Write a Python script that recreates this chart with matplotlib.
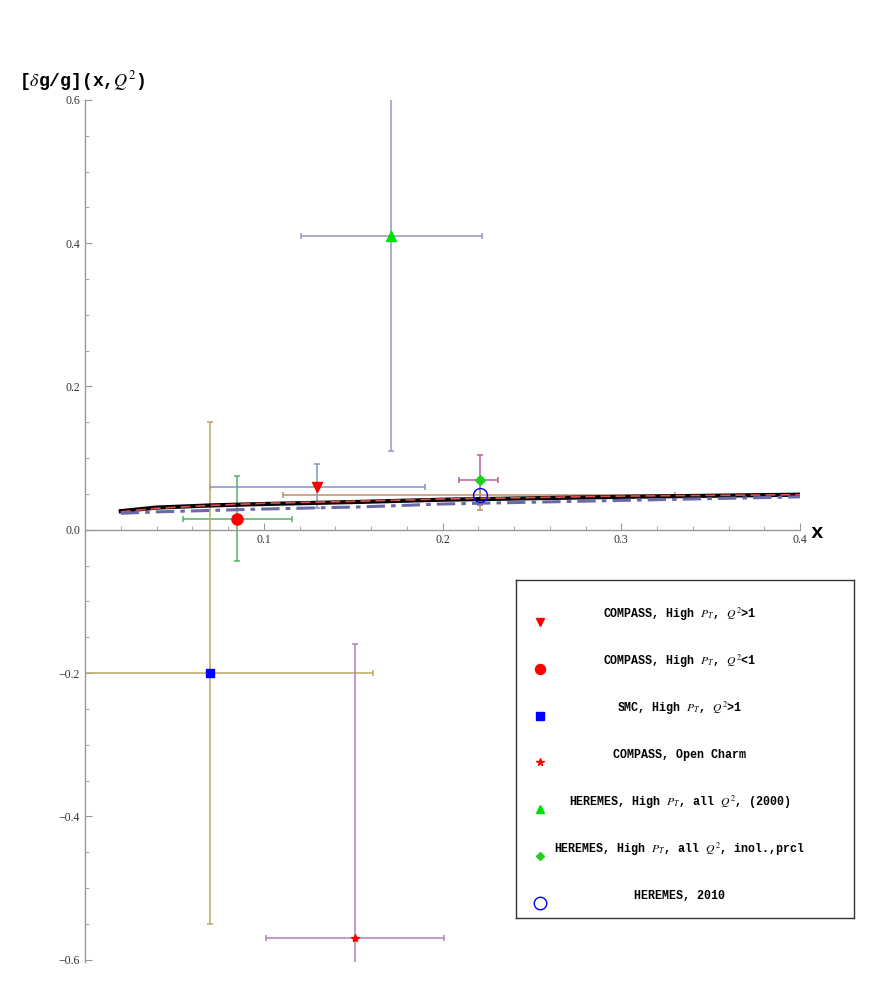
import matplotlib.pyplot as plt

plt.rcParams["mathtext.fontset"] = "stix"

# model curves
X_CURVE = [0.02, 0.04, 0.07, 0.10, 0.155, 0.20, 0.30, 0.40]
BLACK_CURVE = [0.026, 0.031, 0.034, 0.036, 0.039, 0.042, 0.046, 0.049]
RED_CURVE = [0.025, 0.030, 0.034, 0.037, 0.040, 0.043, 0.047, 0.049]
BLUE_CURVE = [0.023, 0.025, 0.027, 0.029, 0.032, 0.036, 0.041, 0.046]

# data points: x, y, x-errors (lo, hi), y-errors (lo, hi)
LABELS = [
    r"COMPASS, High $P_T$, $Q^2$>1",
    r"COMPASS, High $P_T$, $Q^2$<1",
    r"SMC, High $P_T$, $Q^2$>1",
    "COMPASS, Open Charm",
    r"HEREMES, High $P_T$, all $Q^2$, (2000)",
    r"HEREMES, High $P_T$, all $Q^2$, inol.,prcl",
    "HEREMES, 2010",
]
PX = [0.13, 0.085, 0.07, 0.151, 0.171, 0.221, 0.221]
PY = [0.060, 0.015, -0.200, -0.570, 0.410, 0.070, 0.049]
XERR_LO = [0.060, 0.030, 0.090, 0.050, 0.050, 0.012, 0.110]
XERR_HI = [0.060, 0.031, 0.091, 0.050, 0.051, 0.010, 0.109]
YERR_LO = [0.029, 0.058, 0.350, 0.410, 0.300, 0.035, 0.021]
YERR_HI = [0.032, 0.060, 0.350, 0.410, 0.300, 0.035, 0.021]

MARKERS = ["v", "o", "s", "*", "^", "D", "o"]
MSIZES = [7, 8, 6, 6, 7, 5, 10]
MCOLORS = ["red", "red", "blue", "red", "#00e000", "#20d020", "none"]
MEDGES = ["red", "red", "blue", "red", "#00e000", "#20d020", "blue"]
ECOLORS = ["#8292c8", "#55b066", "#b8a862", "#b67cc0", "#9595cc", "#b8609e", "#bb9070"]

fig = plt.figure(figsize=(8.72, 9.84), dpi=100)
ax = fig.add_axes([0.0975, 0.0225, 0.82, 0.876])

ax.plot(X_CURVE, BLACK_CURVE, color="black", lw=3.0, zorder=3)
ax.plot(X_CURVE, RED_CURVE, color="#e05050", lw=1.2, ls=(0, (6, 3)), zorder=4)
ax.plot(X_CURVE, BLUE_CURVE, color="#6a6aa8", lw=2.2, ls=(0, (6, 2, 1.5, 2)), zorder=4)

for i in range(len(PX)):
    ax.errorbar(PX[i], PY[i],
                xerr=[[XERR_LO[i]], [XERR_HI[i]]],
                yerr=[[YERR_LO[i]], [YERR_HI[i]]],
                fmt="none", ecolor=ECOLORS[i], elinewidth=1.1,
                capsize=2.5, capthick=1.1, zorder=2)
    ax.plot(PX[i], PY[i], marker=MARKERS[i], ms=MSIZES[i],
            mfc=MCOLORS[i], mec=MEDGES[i], ls="none", zorder=5)

ax.set_xlim(0.0, 0.4)
ax.set_ylim(-0.603, 0.6)
ax.spines["left"].set_position(("data", 0))
ax.spines["bottom"].set_position(("data", 0))
ax.spines["right"].set_visible(False)
ax.spines["top"].set_visible(False)
for s in ("left", "bottom"):
    ax.spines[s].set_color("#999999")
    ax.spines[s].set_linewidth(1.0)

ax.set_xticks([0.1, 0.2, 0.3, 0.4])
ax.set_xticks([i * 0.02 for i in range(1, 21)], minor=True)
ax.set_yticks([-0.6, -0.4, -0.2, 0.0, 0.2, 0.4, 0.6])
ax.set_yticks([-0.6 + i * 0.05 for i in range(25)], minor=True)
ax.set_xticklabels(["0.1", "0.2", "0.3", "0.4"])
ax.set_yticklabels(["\u22120.6", "\u22120.4", "\u22120.2", "0.0", "0.2", "0.4", "0.6"])
ax.tick_params(which="both", direction="in", colors="#999999",
               labelcolor="#333333", labelsize=8.5)
ax.tick_params(which="major", length=5, width=0.8)
ax.tick_params(which="minor", length=3, width=0.6)
ax.tick_params(axis="x", pad=3)
for lab in ax.get_xticklabels() + ax.get_yticklabels():
    lab.set_fontfamily("Liberation Serif")

fig.text(0.022, 0.918, r"[$\delta$g/g](x,$Q^2$)", family="Liberation Mono",
         weight="bold", fontsize=13, ha="left", va="center")
fig.text(0.930, 0.459, "x", family="Liberation Mono", weight="bold",
         fontsize=15, ha="left", va="center")

# legend box
lax = fig.add_axes([0.5917, 0.0671, 0.3876, 0.3435])
lax.set_xlim(0, 1)
lax.set_ylim(0, 1)
lax.set_xticks([])
lax.set_yticks([])
for s in lax.spines.values():
    s.set_color("#333333")
    s.set_linewidth(1.0)
for i in range(len(LABELS)):
    yy = 0.876 - i * 0.1385
    lax.plot(0.071, yy, marker=MARKERS[i], ms=MSIZES[i] * 0.9,
             mfc=MCOLORS[i], mec=MEDGES[i], ls="none")
    lax.text(0.485, yy + 0.021, LABELS[i], family="Liberation Mono",
             weight="bold", fontsize=8.4, ha="center", va="center")

fig.savefig("out.png", dpi=100)
